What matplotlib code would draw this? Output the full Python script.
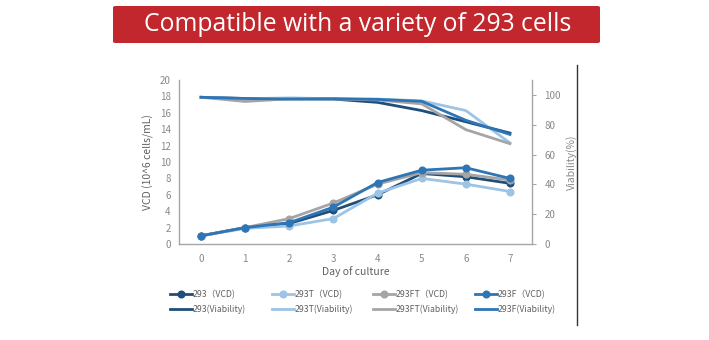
import matplotlib
matplotlib.use("Agg")
import matplotlib.pyplot as plt
from matplotlib.patches import FancyBboxPatch

plt.rcParams['font.family'] = ['Noto Sans CJK SC', 'DejaVu Sans']

days = [0, 1, 2, 3, 4, 5, 6, 7]
cell_lines = ["293", "293T", "293FT", "293F"]
colors = ["#1f4e79", "#9dc3e6", "#a5a5a5", "#2e75b6"]

vcd_293 = [1.0, 2.0, 2.5, 4.1, 6.0, 8.6, 8.2, 7.4]
vcd_293t = [1.0, 1.9, 2.2, 3.1, 6.2, 8.0, 7.3, 6.4]
vcd_293ft = [1.0, 2.0, 3.1, 5.0, 7.3, 8.7, 8.5, 7.8]
vcd_293f = [1.0, 2.0, 2.6, 4.5, 7.5, 9.0, 9.3, 8.0]

via_293 = [98.4, 97.6, 97.4, 97.2, 95.0, 89.5, 82.0, 74.4]
via_293t = [98.4, 97.4, 98.0, 97.4, 97.2, 96.0, 89.5, 67.8]
via_293ft = [98.4, 95.6, 97.4, 97.4, 96.6, 94.0, 76.7, 67.3]
via_293f = [98.4, 97.6, 97.2, 97.4, 97.0, 95.7, 83.0, 73.5]

vcd_all = [vcd_293, vcd_293t, vcd_293ft, vcd_293f]
via_all = [via_293, via_293t, via_293ft, via_293f]

fig = plt.figure(figsize=(7.09, 3.40), dpi=100)
fig.patch.set_facecolor("white")

# red banner with title
banner = FancyBboxPatch((113 / 709, 1 - 43 / 340), (600 - 113) / 709, (43 - 6) / 340,
                        boxstyle="round,pad=0,rounding_size=0.004",
                        transform=fig.transFigure, facecolor="#c1272d",
                        edgecolor="none")
fig.patches.append(banner)
fig.text(358 / 709, 1 - 24.5 / 340, "Compatible with a variety of 293 cells",
         ha="center", va="center", color="white", fontsize=17.8,
         family=["Open Sans", "DejaVu Sans"])

# vertical divider on the right
fig.add_artist(plt.Line2D([577 / 709, 577 / 709], [1 - 65 / 340, 1 - 325 / 340],
                          transform=fig.transFigure, color="#333333", lw=1.0))

ax = fig.add_axes([179 / 709, 1 - 244 / 340, (532 - 179) / 709, (244 - 80) / 340])
ax2 = ax.twinx()

grey = "#888888"
txt = "#606060"
pairs = []
for name, c, vcd, via in zip(cell_lines, colors, vcd_all, via_all):
    h1, = ax.plot(days, vcd, color=c, lw=2.0, marker="o", markersize=4.8,
                  label=f"{name}（VCD)", zorder=3)
    h2, = ax2.plot(days, via, color=c, lw=2.0, label=f"{name}(Viability)")
    pairs.append((h1, h2))

ax.set_xlim(-0.5, 7.5)
ax.set_ylim(0, 20)
ax.set_yticks(range(0, 21, 2))
ax.set_xticks(days)
ax2.set_ylim(0, 110)
ax2.set_yticks(range(0, 101, 20))

for a in (ax, ax2):
    a.spines["top"].set_visible(False)
    for s in ("left", "right", "bottom"):
        a.spines[s].set_color("#a6a6a6")
        a.spines[s].set_linewidth(1.0)
ax.spines["right"].set_visible(False)
ax2.spines["left"].set_visible(False)
ax2.spines["bottom"].set_visible(False)

ax.tick_params(axis="y", length=0, labelsize=7, labelcolor=grey, pad=6)
ax.tick_params(axis="x", length=0, labelsize=7, labelcolor=grey, pad=7)
ax2.tick_params(axis="y", length=3, color="#a6a6a6", labelsize=7,
                labelcolor=grey, pad=6)

ax.set_xlabel("Day of culture", fontsize=7.5, color=txt, labelpad=2)
ax.set_ylabel("VCD (10^6 cells/mL)", fontsize=7.5, color=txt, labelpad=4)
ax2.set_ylabel("Viability(%)", fontsize=7.5, color=grey, labelpad=4)

ax.set_zorder(ax2.get_zorder() + 1)
ax.patch.set_visible(False)

# legend: one fixed-width column per cell line
col_x = [170, 272, 373, 475]
for x, (h1, h2) in zip(col_x, pairs):
    fig.legend(handles=[h1, h2], loc="center left",
               bbox_to_anchor=(x / 709, 1 - 302 / 340), frameon=False,
               fontsize=6.3, labelcolor=txt, handlelength=2.5,
               handletextpad=0.1, labelspacing=0.6, borderpad=0,
               borderaxespad=0)

fig.savefig("out.png", dpi=100)
